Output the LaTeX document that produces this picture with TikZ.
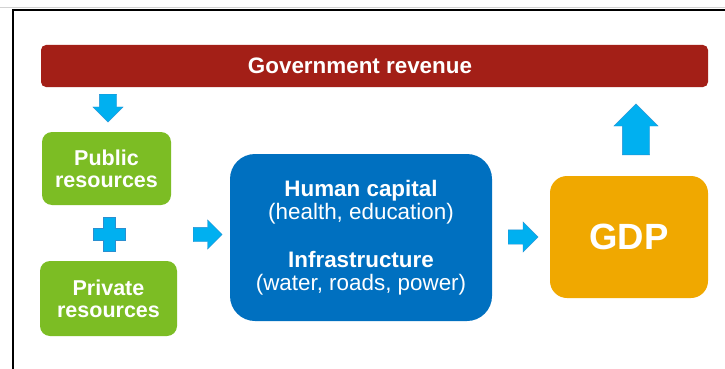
\documentclass[tikz,border=0pt]{standalone}
\usepackage{fontspec}
\setmainfont{Liberation Sans}
\usetikzlibrary{shapes.arrows}

\definecolor{revred}{HTML}{A31F17}
\definecolor{resgreen}{HTML}{7CBD24}
\definecolor{capblue}{HTML}{0070C0}
\definecolor{gdporange}{HTML}{F0A800}
\definecolor{arrcyan}{HTML}{00B0F0}
\definecolor{arredge}{HTML}{2A8FD0}

\begin{document}
\begin{tikzpicture}[
        x=1pt, y=-1pt,
        bar/.style={fill=revred, rounded corners=5pt, minimum width=667pt, minimum height=42pt, inner sep=0pt},
        res/.style={fill=resgreen, rounded corners=10pt, text=white, align=center, inner sep=0pt,
            font=\fontsize{21.5}{22}\selectfont\bfseries},
        blk/.style={single arrow, fill=arrcyan, draw=arredge, line width=0.4pt, anchor=tail}
    ]
        \useasboundingbox (0,0) rectangle (725,369);
        \fill[white] (0,0) rectangle (725,369);
        % frame lines at top and left
        \draw[gray!35, line width=0.8pt] (0,7.5) -- (725,7.5);
        \draw[line width=1.6pt] (13,369) -- (13,9.8) -- (725,9.8);

        % revenue bar
        \node[bar] (gov) at (374.5,66) {};
        \node[text=white, font=\fontsize{22.4}{23}\selectfont\bfseries] (govtext) at (360,66) {Government revenue};

        % resources
        \node[res, minimum width=129pt, minimum height=73pt] (pub) at (106.5,168.5) {Public\\resources};
        \node[res, minimum width=137pt, minimum height=75pt] (priv) at (108.5,298.5) {Private\\resources};

        % capital and output
        \node[fill=capblue, rounded corners=25pt, minimum width=262pt, minimum height=167pt, text=white,
            align=center, font=\fontsize{22.4}{23.5}\selectfont] (cap) at (361,237.5)
            {\textbf{Human capital}\\(health, education)\\[24pt]\textbf{Infrastructure}\\(water, roads, power)};
        \node[fill=gdporange, rounded corners=17pt, minimum width=158pt, minimum height=122pt, text=white,
            font=\fontsize{36.5}{40}\selectfont\bfseries] (gdp) at (629,237) {GDP};

        % block arrows, placed by their tails (inner sep gives half the shaft)
        \node[blk, shape border rotate=270, inner sep=8.5pt, minimum height=28pt, minimum width=30pt, single arrow head extend=6.5pt] (dnarr) at (108,94) {};
        \node[blk, shape border rotate=90, inner sep=13.5pt, minimum height=51pt, minimum width=44pt, single arrow head extend=8.5pt] (uparr) at (636,155) {};
        \node[blk, inner sep=7pt, minimum height=29pt, minimum width=29pt, single arrow head extend=7.5pt] (rarra) at (193,234.5) {};
        \node[blk, inner sep=7pt, minimum height=30pt, minimum width=30pt, single arrow head extend=8pt] (rarrb) at (508,237) {};

        % plus sign
        \filldraw[fill=arrcyan, draw=arredge, line width=0.4pt]
            (103,217) -- (115,217) -- (115,228) -- (125,228) -- (125,240) -- (115,240)
            -- (115,251) -- (103,251) -- (103,240) -- (93,240) -- (93,228) -- (103,228) -- cycle;
    \end{tikzpicture}
\end{document}
